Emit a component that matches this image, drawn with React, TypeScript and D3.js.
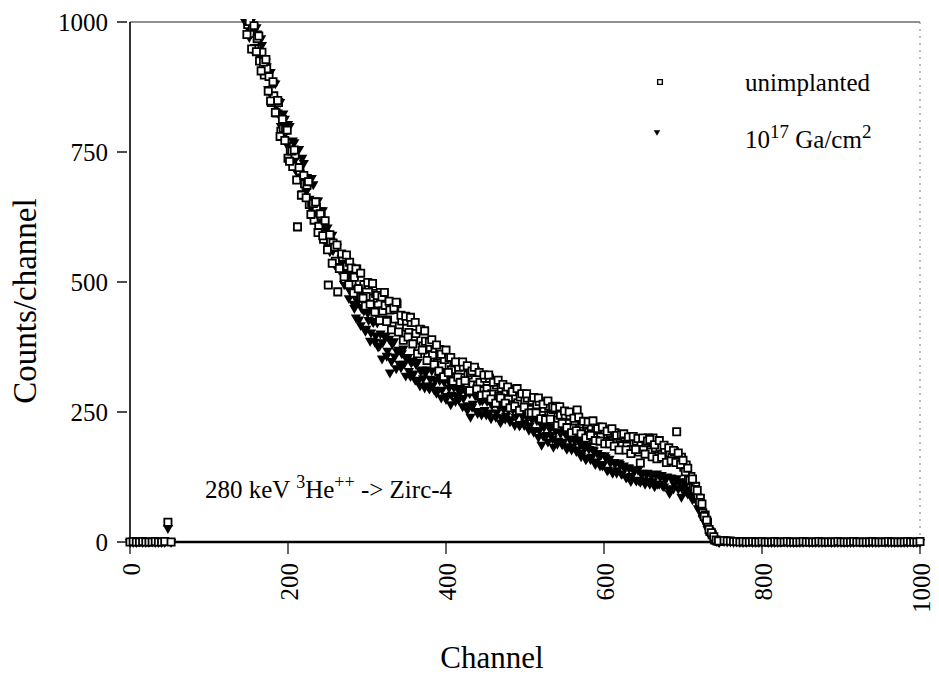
import React from "react";
import * as d3 from "d3";

// ─── Layout ───────────────────────────────────────────────────────────────────
const W = 939;
const H = 676;
const PLOT = { left: 130, right: 920, top: 22, bottom: 542 };
const FONT = "'Liberation Serif', 'Times New Roman', Times, serif";

// ─── Axis ticks ───────────────────────────────────────────────────────────────
const X_TICKS = [0, 200, 400, 600, 800, 1000];
const Y_TICKS = [0, 250, 500, 750, 1000];

// ─── Data (counts per channel) ───────────────────────────────────────────────
// low-channel segment: channels 0, 4, 8 ... 52
const LOW_START = 0;
const LOW_STEP = 4;
const LOW_UNIMPL = [0, 1, 0, 0, 1, 0, 0, 0, 1, 0, 0, 1, 38, 0];
const LOW_GA = [0, 0, 0, 1, 0, 0, 0, 1, 0, 0, 0, 0, 27, 0];

// main spectrum, set A: channels 146, 149, 152 ... 746
const MAIN_A_START = 146;
// main spectrum, set B: channels 148, 151, 154 ... 745
const MAIN_B_START = 148;
const MAIN_STEP = 3;

const MAIN_A_UNIMPL = [
  1012, 995, 978, 990, 948, 968, 925, 942, 898, 910,
  895, 845, 858, 825, 845, 790, 795, 793, 738, 754,
  722, 744, 606, 714, 668, 689, 686, 649, 652, 619,
  644, 607, 627, 582, 592, 494, 578, 575, 540, 481,
  528, 548, 505, 530, 538, 499, 509, 525, 487, 471,
  495, 472, 494, 454, 469, 478, 444, 480, 444, 455,
  427, 446, 415, 447, 458, 415, 425, 399, 425, 403,
  422, 387, 401, 374, 408, 377, 386, 357, 374, 360,
  372, 344, 370, 340, 351, 324, 355, 331, 344, 317,
  336, 316, 337, 305, 321, 326, 302, 329, 301, 307,
  291, 315, 295, 315, 285, 298, 302, 280, 296, 270,
  290, 274, 292, 264, 294, 268, 279, 255, 273, 277,
  255, 272, 248, 264, 270, 248, 257, 237, 261, 243,
  255, 261, 234, 244, 226, 244, 228, 243, 219, 233,
  254, 215, 227, 207, 227, 211, 222, 202, 215, 221,
  202, 216, 193, 207, 209, 190, 210, 192, 201, 185,
  202, 184, 201, 178, 191, 194, 173, 189, 178, 191,
  200, 173, 200, 181, 166, 182, 169, 178, 158, 171,
  163, 174, 212, 156, 163, 144, 148, 125, 126, 106,
  107, 85, 84, 56, 52, 38, 20, 14, 4, 2,
  1,
];
const MAIN_B_UNIMPL = [
  976, 1001, 948, 993, 943, 973, 906, 923, 928, 867,
  848, 885, 826, 849, 780, 813, 772, 792, 732, 752,
  754, 696, 720, 667, 705, 662, 693, 630, 651, 654,
  595, 631, 589, 618, 562, 591, 536, 567, 571, 526,
  554, 510, 552, 495, 527, 479, 525, 487, 517, 469,
  454, 499, 457, 497, 442, 474, 426, 471, 480, 424,
  463, 408, 450, 461, 404, 436, 388, 434, 394, 432,
  381, 422, 362, 409, 369, 406, 349, 384, 389, 341,
  379, 329, 361, 318, 369, 326, 355, 309, 346, 317,
  307, 346, 310, 339, 291, 329, 336, 294, 326, 282,
  321, 283, 321, 275, 307, 267, 311, 277, 303, 267,
  298, 258, 289, 261, 295, 253, 285, 259, 285, 248,
  248, 278, 248, 277, 237, 265, 235, 271, 236, 260,
  258, 224, 260, 228, 252, 220, 250, 210, 238, 214,
  240, 208, 232, 200, 231, 205, 233, 195, 218, 194,
  221, 189, 213, 189, 218, 184, 205, 177, 206, 208,
  177, 202, 170, 203, 178, 199, 152, 200, 169, 194,
  197, 164, 187, 160, 195, 163, 186, 153, 181, 156,
  176, 153, 171, 149, 157, 135, 142, 119, 121, 101,
  99, 76, 73, 49, 42, 24, 18, 10, 4, 2,
];
const MAIN_A_GA = [
  1000, 1004, 976, 994, 952, 978, 938, 956, 904, 915,
  902, 859, 883, 839, 847, 800, 824, 787, 804, 756,
  772, 736, 755, 710, 739, 695, 702, 660, 700, 651,
  657, 619, 638, 601, 602, 571, 587, 561, 569, 533,
  531, 536, 496, 514, 484, 491, 450, 466, 428, 450,
  445, 410, 427, 403, 423, 397, 376, 401, 384, 395,
  368, 326, 381, 357, 367, 343, 363, 343, 353, 329,
  345, 324, 342, 311, 329, 315, 326, 301, 314, 301,
  312, 292, 311, 293, 309, 281, 297, 283, 298, 282,
  274, 291, 277, 291, 263, 241, 266, 282, 248, 272,
  272, 254, 271, 249, 264, 268, 249, 261, 240, 256,
  243, 255, 236, 256, 241, 251, 227, 242, 230, 243,
  224, 236, 215, 234, 215, 187, 221, 206, 222, 206,
  183, 214, 195, 209, 193, 209, 184, 197, 183, 195,
  178, 192, 171, 180, 162, 179, 164, 176, 155, 167,
  167, 150, 163, 139, 153, 133, 151, 138, 150, 132,
  142, 126, 142, 127, 137, 118, 119, 132, 119, 132,
  117, 130, 117, 131, 112, 126, 109, 122, 126, 94,
  122, 111, 122, 116, 87, 112, 98, 101, 90, 88,
  83, 65, 66, 46, 42, 25, 20, 8, 5, 2,
  0,
];
const MAIN_B_GA = [
  1008, 971, 1003, 947, 990, 936, 969, 905, 924, 871,
  904, 847, 882, 826, 846, 785, 814, 764, 800, 746,
  769, 712, 756, 701, 729, 674, 700, 642, 688, 635,
  657, 605, 638, 578, 605, 559, 591, 534, 568, 524,
  546, 496, 521, 469, 507, 458, 432, 464, 417, 452,
  406, 441, 387, 425, 385, 422, 378, 353, 397, 358,
  391, 348, 386, 334, 370, 336, 372, 320, 356, 319,
  349, 312, 346, 301, 332, 297, 332, 295, 330, 293,
  287, 318, 278, 310, 275, 311, 265, 303, 271, 295,
  297, 261, 292, 254, 286, 260, 288, 252, 281, 245,
  277, 245, 276, 238, 269, 241, 274, 230, 265, 237,
  262, 232, 257, 225, 258, 224, 255, 225, 242, 216,
  241, 212, 239, 202, 228, 204, 229, 193, 219, 199,
  217, 189, 216, 188, 213, 179, 204, 178, 200, 175,
  194, 165, 187, 159, 186, 159, 178, 150, 171, 147,
  147, 167, 138, 160, 136, 154, 133, 153, 131, 147,
  124, 144, 117, 140, 120, 139, 116, 133, 112, 133,
  112, 130, 107, 132, 112, 129, 107, 124, 103, 124,
  103, 122, 103, 117, 100, 110, 93, 99, 82, 86,
  77, 60, 58, 40, 35, 20, 15, 6, 3, 1,
];

// above the surface edge: channels 752, 756 ... 1000
const TAIL_START = 752;
const TAIL_STEP = 4;
const TAIL_UNIMPL = [
  3, 2, 2, 1, 1, 0, 1, 0, 0, 1,
  0, 0, 1, 0, 0, 0, 1, 0, 0, 0,
  1, 0, 0, 0, 0, 1, 0, 0, 0, 0,
  1, 0, 0, 0, 0, 0, 1, 0, 0, 0,
  0, 1, 0, 0, 0, 0, 0, 1, 0, 0,
  0, 0, 1, 0, 0, 0, 0, 0, 1, 0,
  0, 0, 1,
];
const TAIL_GA = [
  2, 1, 1, 0, 1, 0, 0, 0, 1, 0,
  0, 0, 0, 1, 0, 0, 0, 0, 0, 1,
  0, 0, 0, 0, 0, 0, 1, 0, 0, 0,
  0, 0, 0, 1, 0, 0, 0, 0, 0, 0,
  0, 0, 1, 0, 0, 0, 0, 0, 0, 0,
  1, 0, 0, 0, 0, 0, 0, 0, 0, 1,
  0, 0, 0,
];

type Pt = [number, number];

function segment(start: number, step: number, values: number[]): Pt[] {
  return values.map((v, i) => [start + i * step, v] as Pt);
}

const UNIMPL: Pt[] = [
  ...segment(LOW_START, LOW_STEP, LOW_UNIMPL),
  ...segment(MAIN_A_START, MAIN_STEP, MAIN_A_UNIMPL),
  ...segment(MAIN_B_START, MAIN_STEP, MAIN_B_UNIMPL),
  ...segment(TAIL_START, TAIL_STEP, TAIL_UNIMPL),
];
const GA: Pt[] = [
  ...segment(LOW_START, LOW_STEP, LOW_GA),
  ...segment(MAIN_A_START, MAIN_STEP, MAIN_A_GA),
  ...segment(MAIN_B_START, MAIN_STEP, MAIN_B_GA),
  ...segment(TAIL_START, TAIL_STEP, TAIL_GA),
];

export default function App() {
  const x = d3.scaleLinear().domain([0, 1000]).range([PLOT.left, PLOT.right]);
  const y = d3.scaleLinear().domain([0, 1000]).range([PLOT.bottom, PLOT.top]);

  const square = d3.symbol(d3.symbolSquare, 52)() as string;
  const tri = d3.symbol(d3.symbolTriangle, 46)() as string;
  const legSquare = d3.symbol(d3.symbolSquare, 22)() as string;
  const legTri = d3.symbol(d3.symbolTriangle, 18)() as string;

  return (
    <svg
      width={W}
      height={H}
      style={{ position: "absolute", left: 0, top: 0, background: "#fff", fontFamily: FONT }}
    >
      <defs>
        <clipPath id="plot-clip">
          <rect
            x={PLOT.left - 6}
            y={PLOT.top - 3}
            width={PLOT.right - PLOT.left + 12}
            height={PLOT.bottom - PLOT.top + 10}
          />
        </clipPath>
      </defs>

      {/* frame */}
      <line x1={PLOT.left} x2={PLOT.right} y1={PLOT.top} y2={PLOT.top} stroke="#222" strokeWidth={1.2} />
      <line
        x1={PLOT.right}
        x2={PLOT.right}
        y1={PLOT.top}
        y2={PLOT.bottom}
        stroke="#777"
        strokeWidth={1}
        strokeDasharray="2,5"
      />
      <line x1={PLOT.left} x2={PLOT.left} y1={PLOT.top} y2={PLOT.bottom} stroke="#000" strokeWidth={1.6} />
      <line x1={PLOT.left} x2={PLOT.right} y1={PLOT.bottom} y2={PLOT.bottom} stroke="#000" strokeWidth={2.4} />

      {/* y ticks */}
      {Y_TICKS.map((t) => (
        <g key={`y${t}`}>
          <line x1={PLOT.left - 13} x2={PLOT.left - 3} y1={y(t)} y2={y(t)} stroke="#000" strokeWidth={1.4} />
          <text x={PLOT.left - 22} y={y(t)} dy="0.35em" textAnchor="end" fontSize={25}>
            {t}
          </text>
        </g>
      ))}

      {/* x ticks */}
      {X_TICKS.map((t) => (
        <g key={`x${t}`}>
          <line x1={x(t)} x2={x(t)} y1={PLOT.bottom + 1} y2={PLOT.bottom + 12} stroke="#000" strokeWidth={1.2} />
          <text
            transform={`translate(${x(t) + 1},${PLOT.bottom + 21}) rotate(-90)`}
            textAnchor="end"
            dy="0.35em"
            fontSize={25}
          >
            {t}
          </text>
        </g>
      ))}

      {/* axis titles */}
      <text x={492} y={668} textAnchor="middle" fontSize={31}>
        Channel
      </text>
      <text transform="translate(36,301) rotate(-90)" textAnchor="middle" fontSize={33}>
        Counts/channel
      </text>

      {/* data: implanted first, unimplanted squares drawn on top */}
      <g clipPath="url(#plot-clip)">
        {GA.map(([c, v], i) => (
          <path key={`g${i}`} d={tri} transform={`translate(${x(c)},${y(v)}) rotate(180)`} fill="#000" />
        ))}
        {UNIMPL.map(([c, v], i) => (
          <path
            key={`u${i}`}
            d={square}
            transform={`translate(${x(c)},${y(v)})`}
            fill="#fff"
            stroke="#000"
            strokeWidth={1.8}
          />
        ))}
      </g>

      {/* legend */}
      <path d={legSquare} transform="translate(660,82)" fill="#fff" stroke="#000" strokeWidth={1.4} />
      <text x={745} y={91} fontSize={25}>
        unimplanted
      </text>
      <path d={legTri} transform="translate(657,132) rotate(180)" fill="#000" />
      <text x={745} y={148} fontSize={25}>
        <tspan>10</tspan>
        <tspan dy={-10} fontSize={19}>17</tspan>
        <tspan dy={10}>{" Ga/cm"}</tspan>
        <tspan dy={-10} fontSize={19}>2</tspan>
      </text>

      {/* annotation */}
      <text x={205} y={498} fontSize={25}>
        <tspan>{"280 keV "}</tspan>
        <tspan dy={-10} fontSize={18}>3</tspan>
        <tspan dy={10}>He</tspan>
        <tspan dy={-10} fontSize={18}>++</tspan>
        <tspan dy={10}>{" -> Zirc-4"}</tspan>
      </text>
    </svg>
  );
}
